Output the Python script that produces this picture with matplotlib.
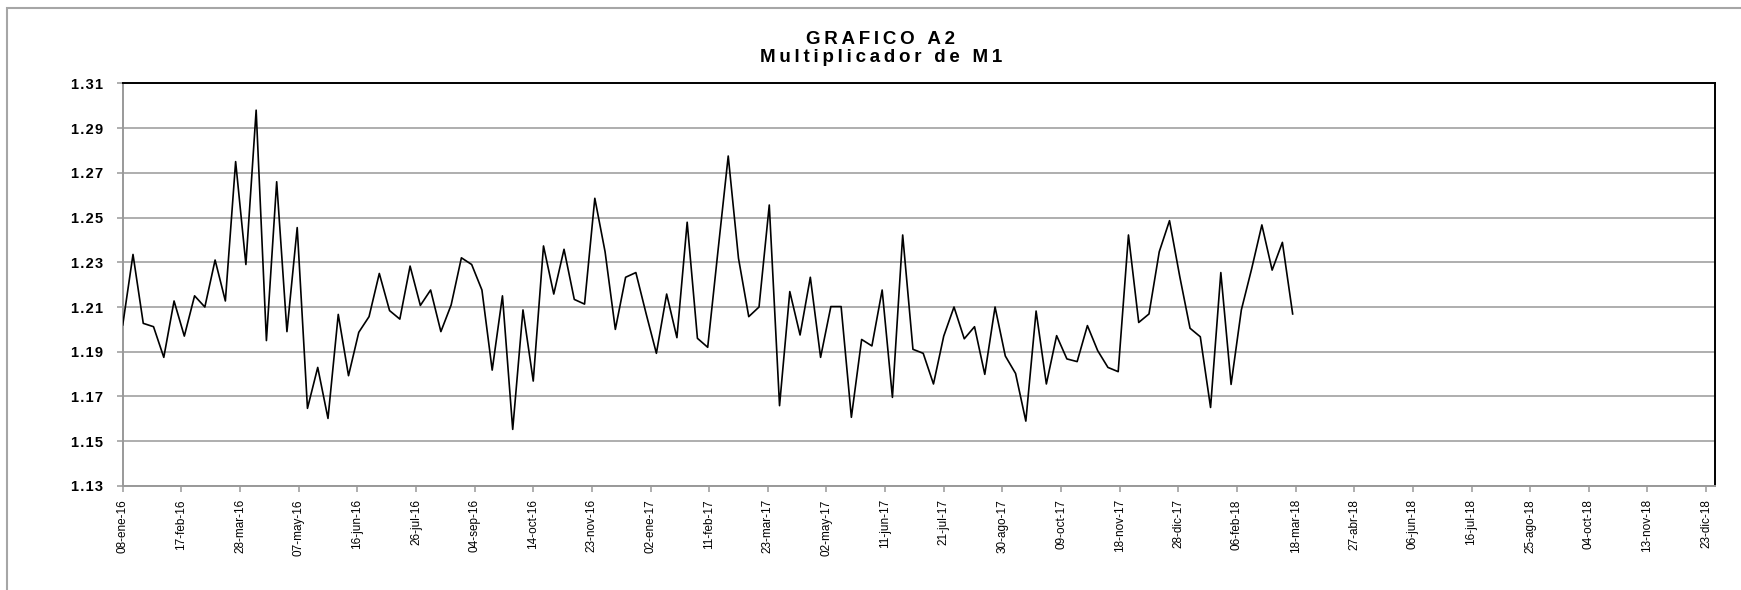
import numpy as np
import pandas as pd
import matplotlib
matplotlib.use("Agg")
import matplotlib.pyplot as plt
from matplotlib.patches import Rectangle

# ================= DATA =================
start_date = "2016-01-08"
multiplicador = [
    1.202, 1.2335, 1.2027, 1.2012, 1.1875, 1.2127, 1.197, 1.215, 1.210, 1.231,
    1.2127, 1.275, 1.229, 1.298, 1.195, 1.266, 1.199, 1.2455, 1.1647, 1.183,
    1.1602, 1.2067, 1.1793, 1.1987, 1.2057, 1.225, 1.2084, 1.2046, 1.2283, 1.2107,
    1.2176, 1.199, 1.2109, 1.232, 1.229, 1.2176, 1.1818, 1.215, 1.1553, 1.2087,
    1.1769, 1.2373, 1.2158, 1.2358, 1.2134, 1.2113, 1.2586, 1.2347, 1.200, 1.2233,
    1.2254, 1.207, 1.1893, 1.2158, 1.1963, 1.2479, 1.196, 1.192, 1.235, 1.2775,
    1.2318, 1.2057, 1.210, 1.2556, 1.1659, 1.2169, 1.1975, 1.2233, 1.1875, 1.2102,
    1.2102, 1.1607, 1.1955, 1.1926, 1.2176, 1.1696, 1.2422, 1.1911, 1.1893, 1.1756,
    1.197, 1.210, 1.1958, 1.2012, 1.1799, 1.210, 1.1881, 1.1803, 1.159, 1.2082,
    1.1756, 1.1972, 1.1868, 1.1856, 1.2017, 1.1905, 1.183, 1.1811, 1.2422, 1.2031,
    1.2069, 1.2347, 1.2486, 1.2236, 1.2005, 1.1967, 1.1651, 1.2254, 1.1754, 1.2087,
    1.227, 1.2467, 1.2265, 1.2389, 1.2069,
]
fechas = pd.date_range(start_date, periods=len(multiplicador), freq="7D")

tick_dates = pd.date_range(start_date, "2018-12-23", freq="40D")
meses = ["ene", "feb", "mar", "abr", "may", "jun", "jul", "ago", "sep", "oct", "nov", "dic"]
tick_labels = [f"{d.day:02d}-{meses[d.month - 1]}-{d.strftime('%y')}" for d in tick_dates]
y_ticks = [1.13, 1.15, 1.17, 1.19, 1.21, 1.23, 1.25, 1.27, 1.29, 1.31]

titulo_1 = "GRAFICO A2"
titulo_2 = "Multiplicador de M1"


def espaciado(texto, sep="\u2009"):
    # Excel-like wide letter spacing
    return sep.join(texto)


# ================= PLOT =================
plt.rcParams['font.family'] = ['Liberation Sans', 'DejaVu Sans']
fig = plt.figure(figsize=(17.41, 5.9), dpi=100)
ax = fig.add_axes([0.0705, 0.1763, 0.9145, 0.6825])

# outer frame of the chart
fig.patches.append(Rectangle((7 / 1741, -0.05), 1.1, 1 - 8 / 590 + 0.05,
                             transform=fig.transFigure, fill=False,
                             edgecolor='#a6a6a6', linewidth=1.5))

ax.plot(fechas, multiplicador, color='black', linewidth=1.2, zorder=3)

ax.set_ylim(1.13, 1.31)
ax.set_yticks(y_ticks)
ax.set_yticklabels([espaciado(f"{v:.2f}", "\u200a") for v in y_ticks],
                   fontweight='bold', fontsize=10.5)
ax.set_xlim(pd.Timestamp(start_date), pd.Timestamp(start_date) + pd.Timedelta(days=1086))
ax.set_xticks(tick_dates)
ax.set_xticklabels(tick_labels, rotation=90, fontsize=8.5)

ax.grid(axis='y', color='#999999', linewidth=1.1, zorder=1)
ax.tick_params(axis='both', color='#999999', length=4.5, width=1.1)
ax.tick_params(axis='y', pad=9.5)
ax.tick_params(axis='x', pad=5)

for side in ['top', 'right']:
    ax.spines[side].set_color('black')
    ax.spines[side].set_linewidth(1.4)
for side in ['left', 'bottom']:
    ax.spines[side].set_color('#999999')
    ax.spines[side].set_linewidth(1.4)

fig.text(0.506, 0.933, espaciado(titulo_1), ha='center', va='center',
         fontsize=13.5, fontweight='bold')
fig.text(0.506, 0.903, espaciado(titulo_2), ha='center', va='center',
         fontsize=13.5, fontweight='bold')

fig.savefig("out.png", dpi=100)
